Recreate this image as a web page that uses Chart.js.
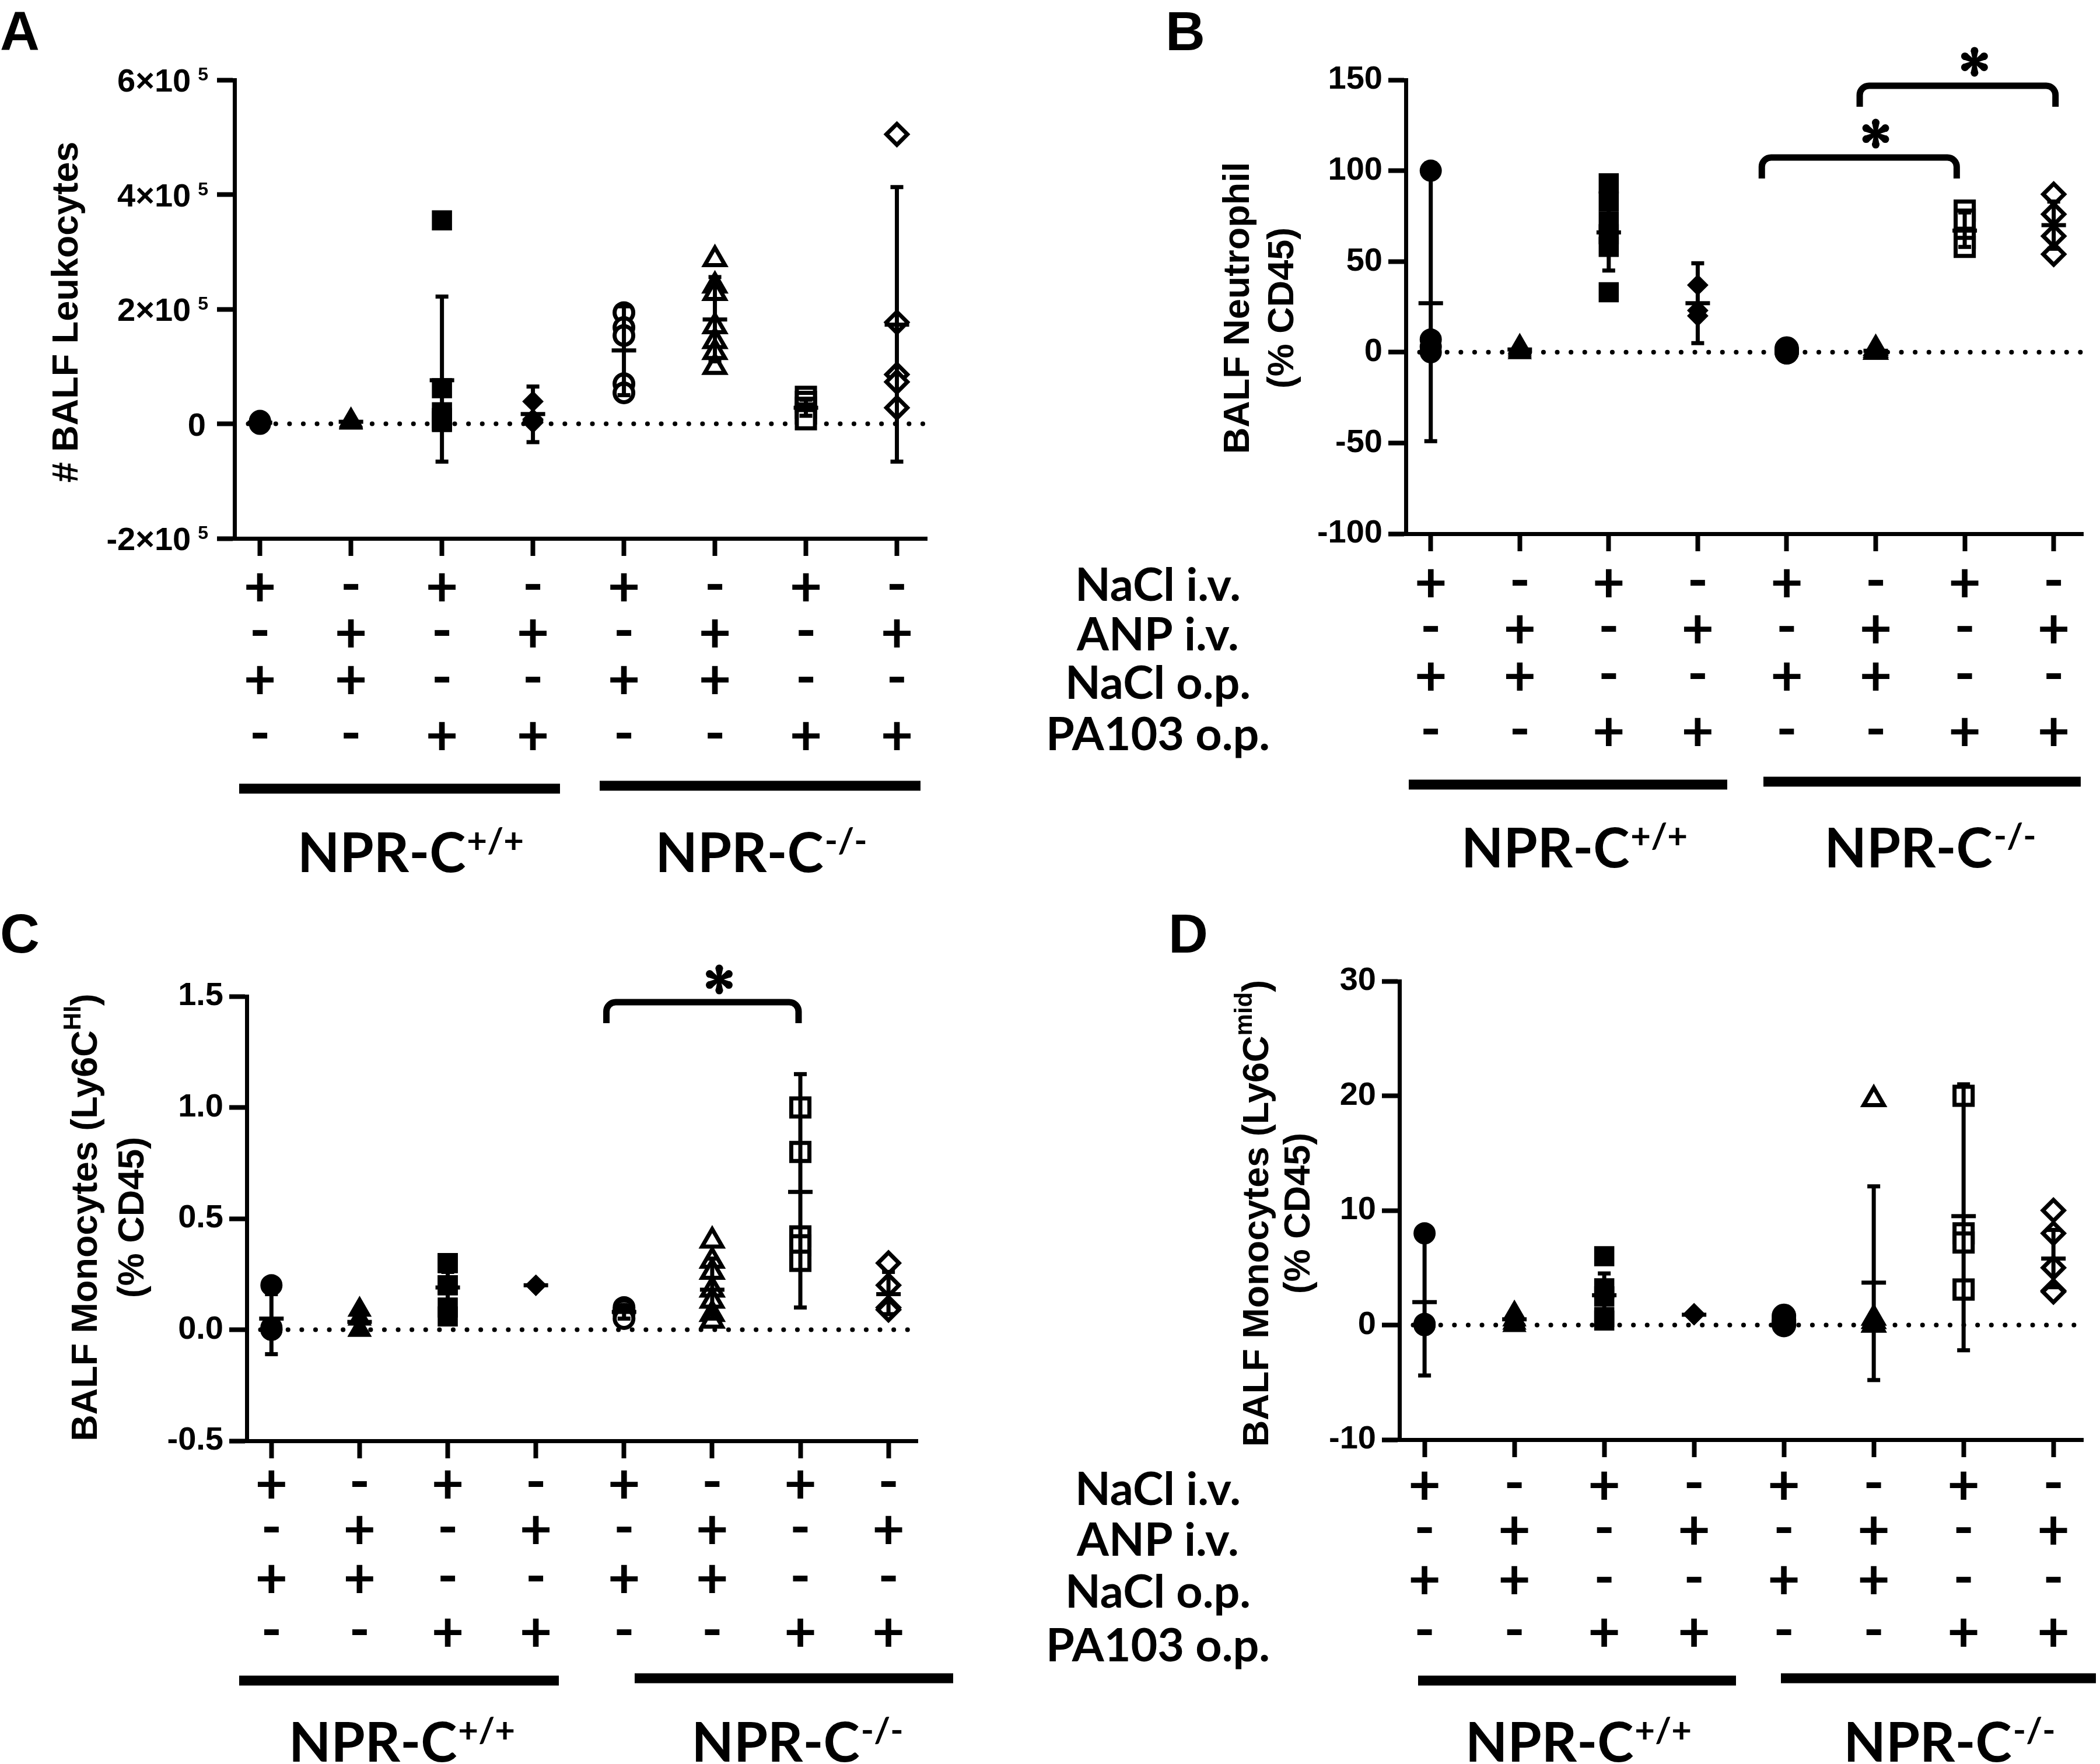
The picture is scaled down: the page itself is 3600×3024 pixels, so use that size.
<!DOCTYPE html>
<html>
<head>
<meta charset="utf-8">
<script src="https://cdn.jsdelivr.net/npm/chart.js@4.4.1/dist/chart.umd.min.js"></script>
<style>
  body { margin: 0; background: #fff; }
  #wrap { position: relative; width: 3600px; height: 3024px; background: #fff; }
  canvas { position: absolute; }
</style>
</head>
<body>
<div id="wrap">
  <canvas id="cA" width="1700" height="1512" style="left:0;top:0"></canvas>
  <canvas id="cB" width="1900" height="1512" style="left:1700px;top:0"></canvas>
  <canvas id="cC" width="1700" height="1512" style="left:0;top:1512px"></canvas>
  <canvas id="cD" width="1900" height="1512" style="left:1700px;top:1512px"></canvas>
</div>
<script>
// ---- values ----
const rowLabels = ['NaCl i.v.', 'ANP i.v.', 'NaCl o.p.', 'PA103 o.p.'];
const rowSigns = [
  ['+', '-', '+', '-', '+', '-', '+', '-'],
  ['-', '+', '-', '+', '-', '+', '-', '+'],
  ['+', '+', '-', '-', '+', '+', '-', '-'],
  ['-', '-', '+', '+', '-', '-', '+', '+']
];
const genotypeNames = ['NPR-C', 'NPR-C'];
const genotypeSup = ['+/+', '-/-'];

// A: # BALF leukocytes
const leukoPoints = [
  [3000, 1000, 0, 5000],
  [4000, 2000, 6000, 3000],
  [355000, 62000, 20000, 10000, 5000, 3000],
  [39000, 5000, 2000, 8000],
  [194000, 168000, 154000, 70000, 54000],
  [287000, 241000, 228000, 170000, 144000, 125000, 99000],
  [47000, 38000, 28000, 18000, 8000],
  [505000, 177000, 86000, 73000, 28000]
];
const leukoMean = [2000, 3500, 76000, 17000, 128000, 182000, 28000, 173000];
const leukoLow = [0, 1500, -66000, -32000, 50000, 109000, 14000, -66000];
const leukoHigh = [4000, 5500, 222000, 65000, 205000, 256000, 42000, 413000];

// B: BALF neutrophil (% CD45)
const neutroPoints = [
  [100, 7, 3, 0],
  [3, 1, 0, 2],
  [93, 83, 72, 65, 58, 33],
  [37, 23, 20],
  [2, 1, 0, 0, 1],
  [2, 0, 1, 0],
  [78, 73, 63, 58],
  [87, 76, 64, 54]
];
const neutroMean = [27, 1.5, 66, 27, 0.8, 0.8, 67, 70];
const neutroLow = [-49, 0, 45, 5, 0, 0, 58, 57];
const neutroHigh = [104, 3, 88, 49, 2, 2, 77, 83];

// C: BALF monocytes Ly6C-HI (% CD45)
const hiPoints = [
  [0.2, 0.0, 0.0, 0.01],
  [0.09, 0.05, 0.0, 0.0],
  [0.3, 0.3, 0.2, 0.2, 0.1, 0.06],
  [0.2, 0.2, 0.2],
  [0.1, 0.09, 0.07, 0.05],
  [0.4, 0.31, 0.26, 0.18, 0.13, 0.07, 0.04],
  [1.0, 0.8, 0.42, 0.38, 0.31],
  [0.3, 0.2, 0.1, 0.09]
];
const hiMean = [0.05, 0.035, 0.19, 0.2, 0.08, 0.18, 0.62, 0.16];
const hiLow = [-0.11, 0.0, 0.13, 0.2, 0.05, 0.05, 0.1, 0.07];
const hiHigh = [0.16, 0.07, 0.26, 0.2, 0.1, 0.32, 1.15, 0.26];

// D: BALF monocytes Ly6C-mid (% CD45)
const midPoints = [
  [8, 0, 0, 0.1],
  [1, 0.5, 0.2, 0],
  [6, 3.2, 2.5, 0.7, 0.4],
  [1, 0.9, 0.9],
  [0.8, 0.5, 0.2, 0.1, 0],
  [19.7, 0.6, 0.3, 0, 0],
  [20, 8, 7.2, 3.1],
  [10, 8, 5, 3, 2.9]
];
const midMean = [2, 0.5, 2.6, 0.9, 0.3, 3.7, 9.5, 5.8];
const midLow = [-4.4, 0, 0.8, 0.9, 0, -4.8, -2.2, 3.3];
const midHigh = [8.4, 1, 4.5, 0.9, 0.6, 12.1, 21, 8.3];

// marker look per group
const shapes = ['circle', 'triangle', 'rect', 'rectRot', 'circle', 'triangle', 'rect', 'rectRot'];
const openMarker = [false, false, false, false, true, true, true, true];
const radiusOpen = [16, 20, 22, 18];
const radiusFilled = [18, 22, 23, 17];

const ARIAL = '"Liberation Sans", Arial, sans-serif';
const CALIBRI = 'Lato, "Open Sans", sans-serif';

const panels = [
  {
    id: 'cA', letter: 'A', x0: 0, y0: 0, area: [402, 137, 1589, 923],
    y: { min: -2e5, max: 6e5, step: 2e5 }, superTicks: true,
    points: leukoPoints, mean: leukoMean, low: leukoLow, high: leukoHigh, filled: [], solidBelow: {},
    title: [[{ t: '# BALF Leukocytes' }]], titleX: [133], titleY: 535,
    letterPos: [0, 86], signY: [1006, 1085, 1165, 1261], labelY: null,
    bars: [[410, 960, 1352], [1028, 1578, 1347]], geno: [[703, 1495], [1304, 1495]],
    brackets: []
  },
  {
    id: 'cB', letter: 'B', x0: 1700, y0: 0, area: [2410, 137, 3592, 915],
    y: { min: -100, max: 150, step: 50 },
    points: neutroPoints, mean: neutroMean, low: neutroLow, high: neutroHigh, filled: [4, 5], solidBelow: {},
    title: [[{ t: 'BALF Neutrophil' }], [{ t: '(% CD45)' }]], titleX: [2141, 2217], titleY: 528,
    letterPos: [1998, 86], signY: [999, 1078, 1159, 1254], labelY: [1030, 1115, 1198, 1286],
    bars: [[2415, 2961, 1345], [3023, 3567, 1340]], geno: [[2698, 1487], [3308, 1487]],
    brackets: [
      { x1: 3.72, x2: 5.91, top: 107.3, leg: 95.7, star: [5.0, 120.4] },
      { x1: 4.82, x2: 7.02, top: 146.8, leg: 135.2, star: [6.11, 160] }
    ]
  },
  {
    id: 'cC', letter: 'C', x0: 0, y0: 1512, area: [423, 1708, 1573, 2470],
    y: { min: -0.5, max: 1.5, step: 0.5 }, fixed: 1,
    points: hiPoints, mean: hiMean, low: hiLow, high: hiHigh, filled: [], solidBelow: {},
    title: [[{ t: 'BALF Monocytes (Ly6C' }, { t: 'HI', sup: true }, { t: ')' }], [{ t: '(% CD45)' }]],
    titleX: [166, 246], titleY: 2087,
    letterPos: [0, 1633], signY: [2544, 2622, 2706, 2798], labelY: null,
    bars: [[410, 958, 2881], [1088, 1634, 2877]], geno: [[688, 3020], [1366, 3020]],
    brackets: [{ x1: 3.80, x2: 5.98, top: 1.474, leg: 1.379, star: [5.08, 1.576] }]
  },
  {
    id: 'cD', letter: 'D', x0: 1700, y0: 1512, area: [2399, 1682, 3592, 2468],
    y: { min: -10, max: 30, step: 10 },
    points: midPoints, mean: midMean, low: midLow, high: midHigh, filled: [4], solidBelow: { 5: 2 },
    title: [[{ t: 'BALF Monocytes (Ly6C' }, { t: 'mid', sup: true }, { t: ')' }], [{ t: '(% CD45)' }]],
    titleX: [2174, 2245], titleY: 2080,
    letterPos: [2003, 1633], signY: [2546, 2623, 2708, 2798], labelY: [2580, 2667, 2756, 2848],
    bars: [[2431, 2976, 2881], [3053, 3593, 2877]], geno: [[2705, 3020], [3341, 3020]],
    brackets: []
  }
];

function drawStar(ctx, cx, cy, r) {
  ctx.save();
  ctx.fillStyle = '#000';
  for (let k = 0; k < 6; k++) {
    const a = -Math.PI / 2 + k * Math.PI / 3;
    const c = Math.cos(a), s = Math.sin(a);
    const ex = cx + c * (r - 6), ey = cy + s * (r - 6);
    ctx.beginPath();
    ctx.moveTo(cx - s * 2.5, cy + c * 2.5);
    ctx.lineTo(ex - s * 6.5, ey + c * 6.5);
    ctx.lineTo(ex + s * 6.5, ey - c * 6.5);
    ctx.lineTo(cx + s * 2.5, cy - c * 2.5);
    ctx.closePath();
    ctx.fill();
    ctx.beginPath();
    ctx.arc(ex, ey, 6.5, 0, Math.PI * 2);
    ctx.fill();
  }
  ctx.restore();
}

function textParts(ctx, parts, size, supSize) {
  let w = 0;
  parts.forEach(p => {
    ctx.font = 'bold ' + (p.sup ? supSize : size) + 'px ' + ARIAL;
    p.w = ctx.measureText(p.t).width;
    w += p.w;
  });
  return w;
}

function extras(p) {
  const X = v => v - p.x0, Y = v => v - p.y0;
  return {
    id: 'extras' + p.letter,
    beforeDatasetsDraw(chart) {
      const ctx = chart.ctx, ys = chart.scales.y, a = chart.chartArea;
      const y0 = ys.getPixelForValue(0);
      ctx.save();
      ctx.strokeStyle = '#000';
      ctx.lineWidth = 8;
      ctx.lineCap = 'round';
      ctx.setLineDash([0.1, 23.5]);
      ctx.beginPath();
      ctx.moveTo(a.left + 23.5, y0);
      ctx.lineTo(a.right, y0);
      ctx.stroke();
      ctx.restore();
    },
    afterDatasetsDraw(chart) {
      const ctx = chart.ctx, xs = chart.scales.x, ys = chart.scales.y;
      ctx.save();
      ctx.fillStyle = '#000';
      p.mean.forEach((m, g) => {
        const px = xs.getPixelForValue(g);
        const ym = ys.getPixelForValue(m);
        const yl = ys.getPixelForValue(p.low[g]);
        const yh = ys.getPixelForValue(p.high[g]);
        ctx.fillRect(px - 3.5, yh, 7, yl - yh);
        ctx.fillRect(px - 11, yh - 3.5, 22, 7);
        ctx.fillRect(px - 11, yl - 3.5, 22, 7);
        ctx.fillRect(px - 21, ym - 3.5, 42, 7);
      });
      ctx.restore();
    },
    afterDraw(chart) {
      const ctx = chart.ctx, xs = chart.scales.x, ys = chart.scales.y;
      ctx.save();
      ctx.fillStyle = '#000';
      ctx.strokeStyle = '#000';

      // panel letter
      ctx.font = 'bold 94px ' + ARIAL;
      ctx.textAlign = 'left';
      ctx.textBaseline = 'alphabetic';
      ctx.fillText(p.letter, X(p.letterPos[0]), Y(p.letterPos[1]));

      // tick labels with exponent (panel A)
      if (p.superTicks) {
        ys.ticks.forEach(t => {
          const py = ys.getPixelForValue(t.value);
          const right = X(357);
          ctx.textAlign = 'right';
          if (t.value === 0) {
            ctx.font = 'bold 56px ' + ARIAL;
            ctx.fillText('0', right - 4, py + 20);
            return;
          }
          ctx.font = 'bold 32px ' + ARIAL;
          const ws = ctx.measureText('5').width;
          ctx.fillText('5', right, py + 1);
          ctx.font = 'bold 56px ' + ARIAL;
          ctx.fillText((t.value / 1e5) + '×10', right - ws - 12, py + 20);
        });
      }

      // axis titles, rotated
      p.title.forEach((parts, i) => {
        ctx.save();
        ctx.translate(X(p.titleX[i]), Y(p.titleY));
        ctx.rotate(-Math.PI / 2);
        ctx.textAlign = 'left';
        const w = textParts(ctx, parts, 63, 42);
        let x = -w / 2;
        parts.forEach(q => {
          ctx.font = 'bold ' + (q.sup ? 42 : 63) + 'px ' + ARIAL;
          ctx.fillText(q.t, x, q.sup ? -28 : 0);
          x += q.w;
        });
        ctx.restore();
      });

      // significance brackets
      p.brackets.forEach(b => {
        const x1 = xs.getPixelForValue(b.x1), x2 = xs.getPixelForValue(b.x2);
        const yt = ys.getPixelForValue(b.top), yb = ys.getPixelForValue(b.leg);
        ctx.lineWidth = 11;
        ctx.lineJoin = 'round';
        ctx.beginPath();
        ctx.moveTo(x1, yb);
        ctx.arcTo(x1, yt, x2, yt, 16);
        ctx.arcTo(x2, yt, x2, yb, 16);
        ctx.lineTo(x2, yb);
        ctx.stroke();
        drawStar(ctx, xs.getPixelForValue(b.star[0]), ys.getPixelForValue(b.star[1]), 25);
      });

      // treatment +/- rows
      ctx.font = 'bold 96px ' + CALIBRI;
      ctx.textAlign = 'center';
      rowSigns.forEach((row, r) => {
        row.forEach((s, g) => {
          const m = ctx.measureText(s);
          const by = Y(p.signY[r]) + (m.actualBoundingBoxAscent - m.actualBoundingBoxDescent) / 2;
          ctx.fillText(s, xs.getPixelForValue(g), by);
        });
      });

      // row labels
      if (p.labelY) {
        ctx.font = 'bold 79px ' + CALIBRI;
        ctx.textAlign = 'center';
        rowLabels.forEach((t, r) => ctx.fillText(t, X(1985), Y(p.labelY[r])));
      }

      // genotype bars and labels
      p.bars.forEach(b => ctx.fillRect(X(b[0]), Y(b[2]) - 8.5, b[1] - b[0], 17));
      p.geno.forEach((gp, i) => {
        ctx.textAlign = 'left';
        ctx.font = 'bold 94px ' + CALIBRI;
        const w1 = ctx.measureText(genotypeNames[i]).width;
        ctx.font = 'bold 60px ' + CALIBRI;
        const w2 = ctx.measureText(genotypeSup[i]).width;
        const x = X(gp[0]) - (w1 + w2) / 2;
        ctx.font = 'bold 94px ' + CALIBRI;
        ctx.fillText(genotypeNames[i], x, Y(gp[1]));
        ctx.font = 'bold 60px ' + CALIBRI;
        ctx.fillText(genotypeSup[i], x + w1 + 2, Y(gp[1]) - 33);
      });
      ctx.restore();
    }
  };
}

function build(p) {
  const cv = document.getElementById(p.id);
  const [L, T, R, B] = p.area;
  const axisH = 40;
  const datasets = p.points.map((vals, g) => {
    const open = openMarker[g] && !p.filled.includes(g);
    const limit = p.solidBelow[g];
    const solid = vals.map(v => !open || (limit !== undefined && v < limit));
    return {
      data: vals.map(v => ({ x: g, y: v })),
      pointStyle: shapes[g],
      pointRadius: solid.map(s => s ? radiusFilled[g % 4] + (openMarker[g] ? 2 : 0) : radiusOpen[g % 4]),
      pointBorderWidth: solid.map(s => s ? 2 : 7),
      pointBackgroundColor: solid.map(s => s ? '#000' : '#fff'),
      pointBorderColor: '#000',
      showLine: false,
      clip: false
    };
  });
  const axisStyle = {
    grid: { display: true, drawOnChartArea: false, drawTicks: true, tickLength: 30, tickWidth: 8, tickColor: '#000' },
    border: { display: true, width: 7, color: '#000' }
  };
  new Chart(cv.getContext('2d'), {
    type: 'scatter',
    data: { datasets },
    options: {
      responsive: false,
      animation: false,
      devicePixelRatio: 1,
      layout: {
        padding: { left: 0, top: T - p.y0, right: cv.width - (R - p.x0), bottom: cv.height - (B - p.y0) - axisH }
      },
      plugins: { legend: { display: false }, tooltip: { enabled: false } },
      scales: {
        x: {
          type: 'linear', min: -0.28, max: 7.33,
          afterBuildTicks: s => { s.ticks = rowSigns[0].map((_, g) => ({ value: g })); },
          afterFit: s => { s.height = axisH; },
          ticks: { callback: () => '' },
          ...axisStyle
        },
        y: {
          min: p.y.min, max: p.y.max,
          afterFit: s => { s.width = L - p.x0; },
          ticks: {
            stepSize: p.y.step, autoSkip: false, padding: 10,
            color: p.superTicks ? 'rgba(0,0,0,0)' : '#000',
            font: { family: ARIAL, weight: 'bold', size: 56 },
            callback: v => p.fixed ? v.toFixed(p.fixed) : String(v)
          },
          ...axisStyle
        }
      }
    },
    plugins: [extras(p)]
  });
}

Promise.all([
  document.fonts.load('bold 55px "Liberation Sans"'),
  document.fonts.load('bold 90px Lato')
]).catch(() => {}).then(() => panels.forEach(build));
</script>
</body>
</html>
